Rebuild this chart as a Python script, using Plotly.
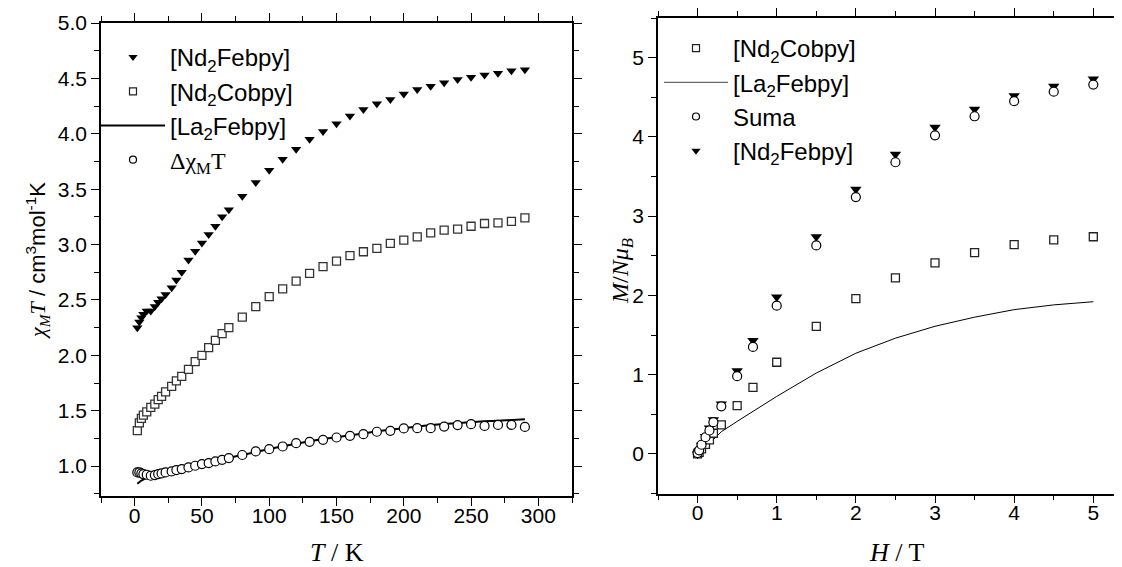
import plotly.graph_objects as go

# --- left panel: chi_M T vs T ---
T_pts = [2, 3.5, 5, 6.5, 9, 12, 15, 17.5, 20, 23, 27.5, 31, 35, 40, 45, 50, 55, 60, 65, 70,
         80, 90, 100, 110, 120, 130, 140, 150, 160, 170, 180, 190, 200, 210, 220, 230,
         240, 250, 260, 270, 280, 290]
nd2fe_chiT = [2.25, 2.30, 2.34, 2.37, 2.40, 2.40, 2.44, 2.48, 2.51, 2.55, 2.61, 2.68, 2.75, 2.86,
              2.94, 3.015, 3.09, 3.165, 3.25, 3.315, 3.435, 3.56, 3.67, 3.77, 3.86, 3.95, 4.02,
              4.09, 4.16, 4.22, 4.27, 4.31, 4.36, 4.40, 4.43, 4.46, 4.49, 4.51, 4.53, 4.547,
              4.568, 4.577]
nd2co_chiT = [1.32, 1.39, 1.43, 1.46, 1.49, 1.53, 1.56, 1.60, 1.63, 1.67, 1.72, 1.77, 1.81, 1.874,
              1.943, 2.0, 2.07, 2.135, 2.195, 2.25, 2.345, 2.44, 2.53, 2.60, 2.67, 2.74, 2.80,
              2.85, 2.90, 2.935, 2.965, 3.01, 3.04, 3.07, 3.105, 3.13, 3.14, 3.165, 3.19, 3.195,
              3.21, 3.24]
delta_chiT = [0.943, 0.943, 0.934, 0.928, 0.922, 0.913, 0.919, 0.928, 0.934, 0.943, 0.952, 0.964,
              0.973, 0.988, 1.003, 1.018, 1.027, 1.042, 1.057, 1.072, 1.10, 1.132, 1.153, 1.177,
              1.207, 1.219, 1.237, 1.258, 1.273, 1.288, 1.31, 1.318, 1.34, 1.342, 1.342, 1.357,
              1.37, 1.378, 1.363, 1.372, 1.372, 1.354]
T_la = [2, 5, 10, 15, 20, 30, 40, 50, 60, 70, 80, 90, 100, 110, 120, 130, 140, 150, 160, 170,
        180, 190, 200, 210, 220, 230, 240, 250, 260, 270, 280, 290]
la2fe_chiT = [0.84, 0.87, 0.90, 0.92, 0.935, 0.96, 0.99, 1.02, 1.045, 1.075, 1.10, 1.13, 1.155,
              1.18, 1.205, 1.225, 1.245, 1.26, 1.28, 1.295, 1.315, 1.33, 1.345, 1.355, 1.37,
              1.38, 1.39, 1.40, 1.405, 1.41, 1.418, 1.423]

# --- right panel: M/Nmu_B vs H ---
H_pts = [0, 0.02, 0.05, 0.1, 0.15, 0.2, 0.3, 0.5, 0.7, 1, 1.5, 2, 2.5, 3, 3.5, 4, 4.5, 5]
nd2co_M = [0.0, 0.02, 0.063, 0.12, 0.177, 0.26, 0.367, 0.61, 0.84, 1.156, 1.61, 1.96, 2.22,
           2.41, 2.54, 2.64, 2.70, 2.74]
nd2fe_M = [0.0, 0.04, 0.11, 0.22, 0.325, 0.43, 0.63, 1.05, 1.43, 1.98, 2.74, 3.34, 3.78, 4.12,
           4.35, 4.52, 4.64, 4.73]
suma_M = [0.01, 0.045, 0.115, 0.21, 0.295, 0.40, 0.60, 0.98, 1.35, 1.87, 2.63, 3.24, 3.68, 4.02,
          4.26, 4.45, 4.57, 4.66]
H_la = [0, 0.1, 0.2, 0.3, 0.5, 0.7, 1, 1.5, 2, 2.5, 3, 3.5, 4, 4.5, 5]
la2fe_M = [0, 0.08, 0.18, 0.28, 0.41, 0.54, 0.725, 1.02, 1.27, 1.46, 1.61, 1.725, 1.82, 1.88, 1.92]

SANS = "Liberation Sans"
SERIF = "Liberation Serif"
# page body has an 8px margin, so the figure is a bit smaller than the window
OFF = 8
W, H = 1122 - OFF, 567 - OFF


def fx(p):  # window pixel -> paper x
    return (p - OFF) / W


def fy(p):  # window pixel -> paper y
    return 1 - (p - OFF) / H


circ = dict(symbol="circle", size=9, color="white", line=dict(width=1.2, color="black"))

fig = go.Figure()

# left panel data
fig.add_trace(go.Scatter(x=T_la, y=la2fe_chiT, mode="lines", line=dict(color="black", width=2),
                         showlegend=False, xaxis="x", yaxis="y"))
fig.add_trace(go.Scatter(x=T_pts, y=nd2co_chiT, mode="markers",
                         marker=dict(symbol="square", size=8, color="white",
                                     line=dict(width=1.3, color="#333")),
                         showlegend=False, xaxis="x", yaxis="y"))
fig.add_trace(go.Scatter(x=T_pts, y=delta_chiT, mode="markers", marker=circ,
                         showlegend=False, xaxis="x", yaxis="y"))
fig.add_trace(go.Scatter(x=T_pts, y=nd2fe_chiT, mode="markers",
                         marker=dict(symbol="triangle-down", size=9, color="black"),
                         showlegend=False, xaxis="x", yaxis="y"))

# right panel data
fig.add_trace(go.Scatter(x=H_la, y=la2fe_M, mode="lines", line=dict(color="black", width=1),
                         showlegend=False, xaxis="x2", yaxis="y2"))
fig.add_trace(go.Scatter(x=H_pts, y=nd2co_M, mode="markers",
                         marker=dict(symbol="square", size=8, color="white",
                                     line=dict(width=1.3, color="#222")),
                         showlegend=False, xaxis="x2", yaxis="y2"))
fig.add_trace(go.Scatter(x=H_pts, y=nd2fe_M, mode="markers",
                         marker=dict(symbol="triangle-down", size=10, color="black"),
                         showlegend=False, xaxis="x2", yaxis="y2"))
fig.add_trace(go.Scatter(x=H_pts, y=suma_M, mode="markers", marker=circ,
                         showlegend=False, xaxis="x2", yaxis="y2"))


# legend entries (smaller symbols, like the original)
def leg(name, legend, group, marker=None, line=None):
    if marker is not None:
        return go.Scatter(x=[None], y=[None], mode="markers", marker=marker, name=name,
                          legend=legend, legendgroup=group)
    return go.Scatter(x=[None], y=[None], mode="lines", line=line, name=name,
                      legend=legend, legendgroup=group)


small_sq = dict(symbol="square", size=7, color="white", line=dict(width=1.2, color="#222"))
small_c = dict(symbol="circle", size=7, color="white", line=dict(width=1.2, color="black"))
small_t = dict(symbol="triangle-down", size=8, color="black")

fig.add_trace(leg("[Nd<sub>2</sub>Febpy]", "legend", "a1", marker=small_t))
fig.add_trace(leg("[Nd<sub>2</sub>Cobpy]", "legend", "a2", marker=small_sq))
fig.add_trace(leg("[La<sub>2</sub>Febpy]", "legend", "a3", line=dict(color="black", width=2)))
fig.add_trace(leg(f"<span style='font-family:{SERIF}'>Δχ<sub>M</sub>T</span>", "legend", "a4",
                  marker=small_c))

fig.add_trace(leg("[Nd<sub>2</sub>Cobpy]", "legend2", "b1", marker=small_sq))
fig.add_trace(leg("[La<sub>2</sub>Febpy]", "legend2", "b2", line=dict(color="#444", width=1)))
fig.add_trace(leg("Suma", "legend2", "b3", marker=small_c))
fig.add_trace(leg("[Nd<sub>2</sub>Febpy]", "legend2", "b4", marker=small_t))

axis_common = dict(showline=True, linecolor="black", linewidth=1.5, mirror="ticks",
                   ticks="outside", ticklen=8, tickwidth=1.3, tickcolor="black",
                   showgrid=False, zeroline=False, automargin=False,
                   tickfont=dict(family=SANS, size=21, color="black"))
minor_common = dict(ticks="outside", ticklen=5, tickwidth=1.2, tickcolor="black", showgrid=False)

ytitle_left = (f"<span style='font-family:{SERIF}'><i>χ<sub>M</sub>T</i></span>"
               " / cm<sup>3</sup>mol<sup>-1</sup>K")

fig.update_layout(
    width=W, height=H,
    margin=dict(l=0, r=0, t=0, b=0),
    plot_bgcolor="white", paper_bgcolor="white",
    font=dict(family=SANS, color="black"),
    xaxis=dict(domain=[fx(101), fx(572)], range=[-25, 325], tick0=0, dtick=50,
               minor=dict(dtick=25, **minor_common), anchor="y", ticklabelstandoff=-8,
               **axis_common),
    yaxis=dict(domain=[fy(496), fy(23)], range=[0.73, 5.0], tick0=1, dtick=0.5,
               tickformat=".1f", minor=dict(dtick=0.25, **minor_common), anchor="x",
               title=dict(text=ytitle_left, font=dict(family=SANS, size=22), standoff=6),
               **axis_common),
    xaxis2=dict(domain=[fx(658), fx(1121)], range=[-0.5, 5.35], tick0=0, dtick=1,
                minor=dict(dtick=0.5, **minor_common), anchor="y2", ticklabelstandoff=-8,
                **axis_common),
    yaxis2=dict(domain=[fy(493.5), fy(18)], range=[-0.5, 5.5], tick0=0, dtick=1,
                minor=dict(dtick=0.5, **minor_common), anchor="x2", **axis_common),
    legend=dict(x=fx(96), y=fy(35), xanchor="left", yanchor="top",
                bgcolor="rgba(0,0,0,0)", font=dict(family=SANS, size=24),
                traceorder="grouped", tracegroupgap=0, itemwidth=64),
    legend2=dict(x=fx(659), y=fy(26), xanchor="left", yanchor="top",
                 bgcolor="rgba(0,0,0,0)", font=dict(family=SANS, size=24),
                 traceorder="grouped", tracegroupgap=0, itemwidth=64),
    annotations=[
        dict(text="<i>M</i>/<i>Nμ</i><sub><i>B</i></sub>",
             x=fx(622), y=fy(271), xref="paper", yref="paper", textangle=-90,
             xanchor="center", yanchor="middle",
             showarrow=False, font=dict(family=SERIF, size=24)),
        dict(text="<i>T</i> / K", x=fx(337), y=fy(552), xref="paper", yref="paper",
             xanchor="center", yanchor="middle",
             showarrow=False, font=dict(family=SERIF, size=26)),
        dict(text="<i>H</i> / T", x=fx(897), y=fy(552), xref="paper", yref="paper",
             xanchor="center", yanchor="middle",
             showarrow=False, font=dict(family=SERIF, size=26)),
    ],
)

fig.write_html("out.html")
